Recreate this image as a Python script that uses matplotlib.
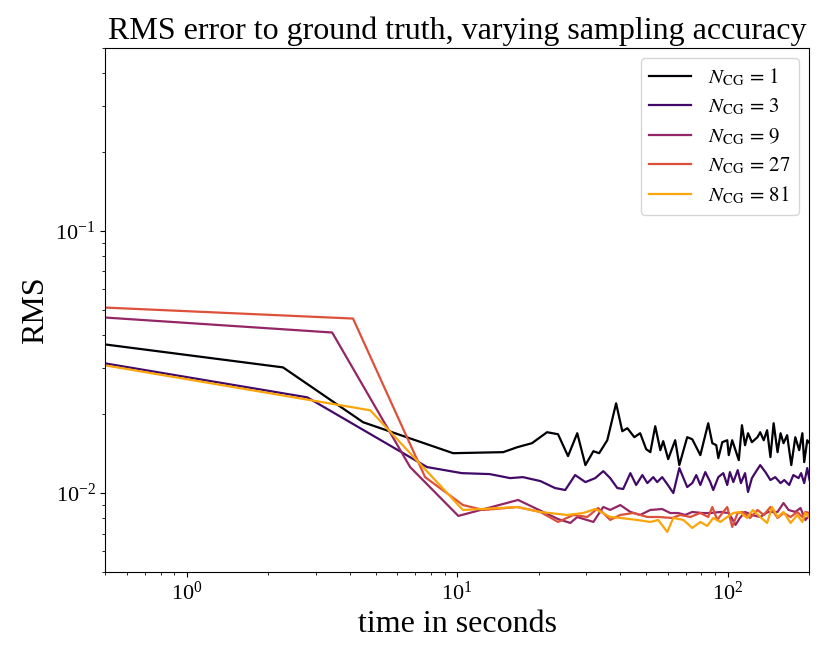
import matplotlib
matplotlib.use('Agg')
import matplotlib.pyplot as plt

# number of CG iterations per run
n_cg = [1, 3, 9, 27, 81]

# wall-clock time (s) and RMS error to ground truth for each run
t_1 = [0.5, 2.27, 4.49, 9.66, 14.8, 16.7, 18.9, 21.5, 23.6, 25.7, 27.8, 29.8, 31.9, 33.5, 35.9, 38.7, 40.8, 42.6,
       45.2, 47.5, 50, 51.8, 54, 56.4, 57.8, 60.3, 64, 66.3, 70.9, 74, 76.6, 79.3, 84.8, 87.8, 90.8, 92.4, 95.6, 99.7,
       101, 104, 110, 113, 116, 119, 123, 129, 132, 136, 140, 144, 148, 153, 157, 161, 166, 172, 178, 184, 189, 192,
       197, 201]
rms_1 = [0.03686, 0.03014, 0.01862, 0.01419, 0.01432, 0.01496, 0.01549, 0.01706, 0.01676, 0.01383, 0.01691, 0.01278,
         0.01444, 0.01419, 0.01590, 0.02199, 0.01721, 0.01767, 0.01633, 0.01691, 0.01470, 0.01432, 0.01798, 0.01457,
         0.01577, 0.01347, 0.01590, 0.01278, 0.01633, 0.01604, 0.01496, 0.01395, 0.01846, 0.01549, 0.01522, 0.01359,
         0.01563, 0.01590, 0.01395, 0.01590, 0.01335, 0.01814, 0.01522, 0.01691, 0.01563, 0.01633, 0.01706, 0.01590,
         0.01736, 0.01371, 0.01846, 0.01432, 0.01691, 0.01549, 0.01662, 0.01278, 0.01633, 0.01457, 0.01691, 0.01312,
         0.01590, 0.01549]

t_3 = [0.5, 2.79, 7.74, 10.4, 13.2, 15.7, 17.5, 20.3, 23, 25.1, 27.3, 29.8, 32.4, 34.7, 36.8, 39.1, 41.1, 43.7, 45.9,
       48.4, 50.5, 53.1, 54.9, 57.3, 59.8, 63, 66.3, 70.9, 74, 76.6, 79.3, 82.7, 86.3, 88.5, 92.4, 96.4, 99.7, 102,
       105, 109, 112, 116, 119, 123, 127, 132, 138, 144, 150, 157, 162, 169, 175, 183, 187, 192, 197, 201]
rms_3 = [0.03121, 0.02317, 0.01256, 0.01191, 0.01181, 0.01140, 0.01150, 0.01111, 0.01045, 0.01027, 0.01171, 0.01101,
         0.01140, 0.01212, 0.01140, 0.01045, 0.01036, 0.01191, 0.01073, 0.01171, 0.01091, 0.01150, 0.01101, 0.01150,
         0.01082, 0.01000, 0.01245, 0.01054, 0.01091, 0.01171, 0.01073, 0.01202, 0.01101, 0.01027, 0.01150, 0.01191,
         0.01073, 0.01202, 0.01101, 0.01223, 0.01091, 0.01191, 0.01009, 0.01140, 0.01202, 0.01278, 0.01202, 0.01121,
         0.01150, 0.01091, 0.01121, 0.01073, 0.01171, 0.01140, 0.01191, 0.01091, 0.01245, 0.01121]

t_9 = [0.5, 3.45, 6.7, 10.1, 16.8, 23.6, 26.2, 27.8, 31.9, 34.7, 36.8, 40.1, 43.7, 47.5, 51.8, 57.3, 61.4, 65.7, 69.7,
       74, 80.6, 86.3, 94, 101, 107, 111, 116, 123, 132, 141, 153, 161, 168, 178, 186, 194, 201]
rms_9 = [0.04669, 0.04094, 0.01256, 0.00818, 0.00941, 0.00796, 0.00769, 0.00810, 0.00776, 0.00885, 0.00862, 0.00900,
         0.00847, 0.00825, 0.00862, 0.00869, 0.00839, 0.00839, 0.00825, 0.00847, 0.00839, 0.00839, 0.00847, 0.00839,
         0.00756, 0.00803, 0.00847, 0.00825, 0.00810, 0.00847, 0.00847, 0.00916, 0.00862, 0.00847, 0.00877, 0.00789,
         0.00825]

t_27 = [0.5, 4.12, 7.61, 10.5, 12.5, 16.7, 20.3, 23.6, 26.9, 30.3, 33.2, 36.8, 40.1, 44.8, 50.5, 55.4, 62.4, 66.8,
        72.8, 79.3, 84.8, 87.8, 91.6, 95.6, 99.7, 104, 109, 114, 121, 129, 136, 144, 153, 161, 171, 181, 189, 194, 201]
rms_27 = [0.05096, 0.04628, 0.0115, 0.009003, 0.008617, 0.008846, 0.008468, 0.007758, 0.008248, 0.008105, 0.008769,
          0.007895, 0.008248, 0.008394, 0.008105, 0.008105, 0.008034, 0.008248, 0.008105, 0.008394, 0.008105,
          0.008846, 0.007895, 0.008394, 0.008846, 0.007425, 0.008394, 0.008468, 0.008034, 0.008617, 0.008248,
          0.008846, 0.008034, 0.008394, 0.008105, 0.008468, 0.008105, 0.008468, 0.008394]

t_81 = [0.5, 4.77, 10.5, 16.7, 20.3, 25.5, 29.3, 32.4, 36.8, 40.1, 46.3, 51.8, 55.4, 59.8, 63, 68.6, 74, 79.3, 84.1,
        88.5, 94, 99.7, 105, 111, 118, 124, 132, 140, 146, 153, 161, 171, 181, 189, 194, 201]
rms_81 = [0.03067, 0.02068, 0.008617, 0.008846, 0.008468, 0.008248, 0.008394, 0.008693, 0.008105, 0.008034,
          0.007895, 0.007758, 0.007895, 0.007107, 0.008034, 0.007895, 0.007361, 0.007758, 0.007491, 0.008034,
          0.007758, 0.008105, 0.008394, 0.008468, 0.008034, 0.008617, 0.008105, 0.00769, 0.008846, 0.008105,
          0.008468, 0.00769, 0.008248, 0.007758, 0.008394, 0.008034]

times = [t_1, t_3, t_9, t_27, t_81]
errors = [rms_1, rms_3, rms_9, rms_27, rms_81]

plt.rcParams['font.family'] = ['Liberation Serif', 'DejaVu Serif']
plt.rcParams['mathtext.fontset'] = 'stix'
cmap = plt.get_cmap('inferno')

fig = plt.figure(figsize=(8.3, 6.57), dpi=100)
ax = fig.add_axes([0.1269, 0.1294, 0.8478, 0.7983])

for i, (n, t, e) in enumerate(zip(n_cg, times, errors)):
    ax.plot(t, e, color=cmap(i * 0.2), lw=1.6, label=r'$N_{\mathrm{CG}}\,=\,%d$' % n)

ax.set_xscale('log')
ax.set_yscale('log')
ax.set_xlim(0.5, 200)
ax.set_ylim(0.005, 0.5)

ax.set_title('RMS error to ground truth, varying sampling accuracy', fontsize=23)
ax.set_xlabel('time in seconds', fontsize=23)
ax.set_ylabel('RMS', fontsize=23)
ax.tick_params(labelsize=16)
ax.legend(loc='upper right', fontsize=15, labelspacing=0.42)

fig.savefig('out.png', dpi=100)
